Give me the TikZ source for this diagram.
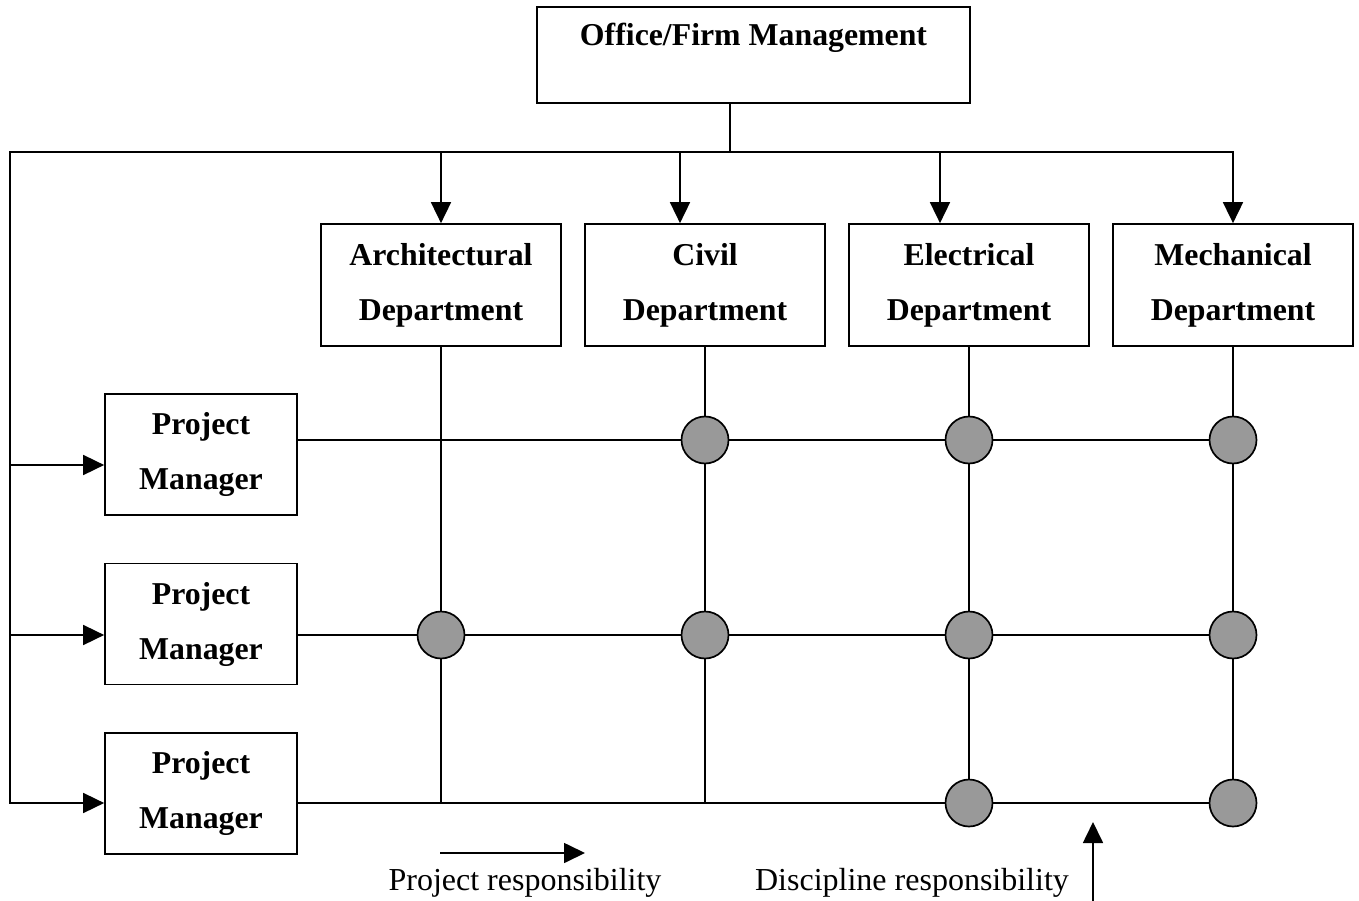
\documentclass[tikz,border=0pt]{standalone}
\usepackage{fontspec}
\setmainfont{Liberation Serif}
\usetikzlibrary{arrows.meta}
\begin{document}
\begin{tikzpicture}[x=1pt,y=-1pt,
  ln/.style={line width=1.7pt,line cap=rect},
  arr/.style={line width=1.7pt,-{Triangle[length=21pt,width=20pt]}},
  box/.style={draw,line width=1.7pt,rectangle,inner sep=0pt,align=center,
    font=\fontsize{31.8}{55}\selectfont\bfseries},
  dept/.style={box,minimum width=240pt,minimum height=122pt},
  pm/.style={box,minimum width=192pt,minimum height=121pt},
  dot/.style={circle,draw,line width=1.7pt,fill=black!40,minimum size=47pt,inner sep=0pt},
  lbl/.style={inner sep=0pt,font=\fontsize{32}{36}\selectfont}]
\useasboundingbox (0,0) rectangle (1359,901);
% top
\node[box,minimum width=433pt,minimum height=96pt] (top) at (753.5,55) {};
\node[lbl,font=\fontsize{31.8}{36}\selectfont\bfseries] (toplabel) at (753.5,38) {Office/Firm Management};
% departments
\node[dept] (arch) at (441,285) {Architectural\\Department};
\node[dept] (civ) at (705,285) {Civil\\Department};
\node[dept] (elec) at (969,285) {Electrical\\Department};
\node[dept] (mech) at (1233,285) {Mechanical\\Department};
% project managers
\node[pm] (pm1) at (201,454.5) {Project\\Manager};
\node[pm] (pm2) at (201,624) {Project\\Manager};
\node[pm] (pm3) at (201,793.5) {Project\\Manager};
% bus
\coordinate (tj) at (730,152);
\coordinate (bl) at (10,152);
\coordinate (br) at (1233,152);
\coordinate (bA) at (441,152);
\coordinate (bC) at (680,152);
\coordinate (bE) at (940,152);
\coordinate (lb) at (10,803);
\draw[ln] (top.south -| tj) -- (tj);
\draw[ln] (bl) -- (br);
\draw[ln] (bl) -- (lb);
\draw[arr] (bA) -- (bA |- arch.north);
\draw[arr] (bC) -- (bC |- civ.north);
\draw[arr] (bE) -- (bE |- elec.north);
\draw[arr] (br) -- (mech.north);
\coordinate (l1) at (10,465);
\coordinate (l2) at (10,635);
\draw[arr] (l1) -- (l1 -| pm1.west);
\draw[arr] (l2) -- (l2 -| pm2.west);
\draw[arr] (lb) -- (lb -| pm3.west);
% grid coordinates
\coordinate (r1) at (297,440);
\coordinate (r2) at (297,635);
\coordinate (r3) at (297,803);
\coordinate (aE) at (441,803);
\coordinate (cE) at (705,803);
\coordinate (eE) at (969,803);
\coordinate (mE) at (1233,803);
\coordinate (m1) at (1233,440);
\coordinate (m2) at (1233,635);
\draw[ln] (r1) -- (m1);
\draw[ln] (r2) -- (m2);
\draw[ln] (r3) -- (mE);
\draw[ln] (arch.south) -- (aE);
\draw[ln] (civ.south) -- (cE);
\draw[ln] (elec.south) -- (eE);
\draw[ln] (mech.south) -- (mE);
% dots
\node[dot] (d1c) at (705,440) {};
\node[dot] (d1e) at (969,440) {};
\node[dot] (d1m) at (1233,440) {};
\node[dot] (d2a) at (441,635) {};
\node[dot] (d2c) at (705,635) {};
\node[dot] (d2e) at (969,635) {};
\node[dot] (d2m) at (1233,635) {};
\node[dot] (d3e) at (969,803) {};
\node[dot] (d3m) at (1233,803) {};
% legend
\coordinate (pa1) at (440,853);
\coordinate (pa2) at (585,853);
\draw[arr] (pa1) -- (pa2);
\node[lbl] (projlbl) at (525,883) {Project responsibility};
\coordinate (da1) at (1093,901);
\coordinate (da2) at (1093,822);
\draw[arr] (da1) -- (da2);
\node[lbl] (disclbl) at (912,883) {Discipline responsibility};
\end{tikzpicture}
\end{document}
